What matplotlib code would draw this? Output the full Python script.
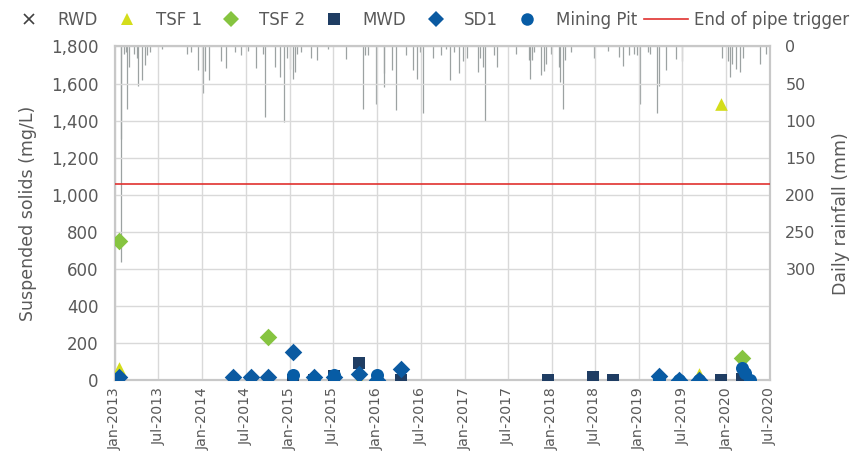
import matplotlib
matplotlib.use("Agg")
import matplotlib.pyplot as plt
import matplotlib.dates as mdates
from matplotlib.lines import Line2D
from matplotlib.ticker import FuncFormatter, FixedLocator
import pandas as pd

plt.rcParams['font.family'] = ['DejaVu Sans']

# ---- water quality samples: suspended solids (mg/L) ----
rwd_dates = ['2014-05-10', '2014-07-23']
rwd_vals = [10, 10]

tsf1_dates = ['2013-01-19', '2014-10-03', '2015-04-12', '2015-07-05', '2015-10-17',
              '2016-01-01', '2019-03-23', '2019-09-08', '2019-12-11']
tsf1_vals = [68, 2, 0, 0, 2, 3, 0, 35, 1490]

tsf2_dates = ['2013-01-19', '2014-10-03', '2020-03-04']
tsf2_vals = [750, 233, 122]

mwd_dates = ['2015-01-16', '2015-04-12', '2015-07-05', '2015-10-17', '2016-04-10',
             '2017-12-17', '2018-06-23', '2018-09-14', '2019-12-11', '2020-03-04']
mwd_vals = [2, 5, 25, 93, 3, 3, 17, 3, 5, 6]

sd1_dates = ['2013-01-19', '2014-05-10', '2014-07-23', '2014-10-03', '2015-01-16',
             '2015-04-12', '2015-07-05', '2015-10-17', '2016-01-01', '2016-04-10',
             '2019-03-23', '2019-06-17', '2019-09-08']
sd1_vals = [20, 17, 17, 17, 152, 20, 20, 35, 5, 60, 22, 5, 5]

pit_dates = ['2015-01-16', '2015-04-12', '2015-07-05', '2016-01-01', '2019-03-23',
             '2019-06-17', '2019-09-08', '2020-03-04', '2020-03-18', '2020-04-10']
pit_vals = [30, 12, 28, 30, 10, 5, 5, 66, 40, 3]

trigger_level = 1060

# ---- daily rainfall (mm) ----
rain_dates = ['2013-01-25', '2013-01-27', '2013-02-08', '2013-02-16', '2013-02-21',
              '2013-03-02', '2013-03-20', '2013-04-03', '2013-04-08', '2013-04-25',
              '2013-05-08', '2013-05-15', '2013-05-29', '2013-07-16', '2013-10-30',
              '2013-11-13', '2013-12-14', '2014-01-04', '2014-01-12', '2014-01-30',
              '2014-03-20', '2014-04-11', '2014-05-19', '2014-06-13', '2014-07-11',
              '2014-08-14', '2014-09-10', '2014-09-20', '2014-11-02', '2014-11-20',
              '2014-12-08', '2014-12-22', '2015-01-02', '2015-01-14', '2015-01-22',
              '2015-02-01', '2015-02-18', '2015-03-31', '2015-04-26', '2015-06-10',
              '2015-08-25', '2015-11-04', '2015-11-12', '2015-11-26', '2015-12-27',
              '2016-01-29', '2016-02-01', '2016-03-04', '2016-03-21', '2016-05-02',
              '2016-05-30', '2016-06-17', '2016-06-30', '2016-07-13', '2016-08-21',
              '2016-09-25', '2016-10-15', '2016-11-02', '2016-11-17', '2016-12-09',
              '2016-12-25', '2017-01-12', '2017-02-28', '2017-03-06', '2017-03-20',
              '2017-03-28', '2017-05-06', '2017-05-17', '2017-08-06', '2017-09-28',
              '2017-10-01', '2017-10-10', '2017-10-17', '2017-11-17', '2017-11-28',
              '2017-12-08', '2017-12-30', '2018-01-30', '2018-02-03', '2018-02-17',
              '2018-02-23', '2018-03-20', '2018-06-25', '2018-08-24', '2018-10-09',
              '2018-10-26', '2018-11-19', '2018-12-11', '2018-12-21', '2019-01-04',
              '2019-02-07', '2019-02-14', '2019-03-15', '2019-03-26', '2019-04-23',
              '2019-06-06', '2019-07-01', '2019-12-15', '2020-01-08', '2020-01-15',
              '2020-01-22', '2020-02-09', '2020-02-26', '2020-03-08', '2020-05-22',
              '2020-06-16']
rain_mm = [290, 125, 10, 8, 84,
           28, 10, 15, 53, 45,
           25, 12, 8, 4, 10,
           8, 32, 63, 33, 45,
           19, 29, 8, 12, 6,
           29, 10, 95, 28, 41,
           102, 15, 30, 44, 35,
           10, 8, 15, 18, 4,
           17, 84, 12, 12, 78,
           55, 36, 32, 86, 12,
           32, 44, 8, 89, 15,
           12, 4, 45, 8, 36,
           20, 15, 35, 15, 28,
           100, 12, 27, 10, 18,
           44, 18, 8, 39, 33,
           23, 10, 28, 48, 84,
           18, 8, 15, 6, 14,
           26, 12, 10, 12, 77,
           8, 10, 90, 53, 32,
           17, 19, 16, 20, 41,
           24, 30, 35, 16, 24,
           10]

text_col = '#595959'
c_rwd, c_tsf1, c_tsf2 = '#404040', '#d4dd1b', '#86c440'
c_mwd, c_sd1, c_pit = '#1f3d63', '#0b5aa1', '#075ca5'
c_trig = '#e0312f'

fig = plt.figure(figsize=(8.52, 4.73), dpi=100)
ax = fig.add_axes([0.135, 0.1956, 0.7688, 0.7061])
ax2 = ax.twinx()

# rainfall hangs from the top on the secondary axis
ax2.vlines(pd.to_datetime(rain_dates), 0, rain_mm, color='#9ca2a2', linewidth=0.9)
ax2.set_ylim(450, 0)
ax2.yaxis.set_major_locator(FixedLocator([0, 50, 100, 150, 200, 250, 300]))
ax2.set_ylabel('Daily rainfall (mm)', color=text_col, fontsize=12.5, labelpad=12)
ax2.tick_params(axis='y', colors=text_col, labelsize=11.5, length=0, pad=11)

ax.set_zorder(ax2.get_zorder() + 1)
ax.patch.set_visible(False)

ax.axhline(trigger_level, color=c_trig, linewidth=1.2, zorder=3)

ax.scatter(pd.to_datetime(rwd_dates), rwd_vals, marker='x', s=40, color=c_rwd,
           linewidths=1.2, zorder=4)
ax.scatter(pd.to_datetime(tsf1_dates), tsf1_vals, marker='^', s=83, color=c_tsf1,
           linewidths=0, zorder=4)
ax.scatter(pd.to_datetime(tsf2_dates), tsf2_vals, marker='D', s=80, color=c_tsf2,
           linewidths=0, zorder=4)
ax.scatter(pd.to_datetime(mwd_dates), mwd_vals, marker='s', s=63, color=c_mwd,
           linewidths=0, zorder=4)
ax.scatter(pd.to_datetime(sd1_dates), sd1_vals, marker='D', s=80, color=c_sd1,
           linewidths=0, zorder=4)
ax.scatter(pd.to_datetime(pit_dates), pit_vals, marker='o', s=88, color=c_pit,
           linewidths=0, zorder=4)

ax.set_ylim(0, 1800)
ax.set_yticks(range(0, 1801, 200))
ax.yaxis.set_major_formatter(FuncFormatter(lambda v, p: f'{int(v):,}'))
ax.set_xlim(pd.Timestamp('2013-01-01'), pd.Timestamp('2020-07-01'))
ax.xaxis.set_major_locator(mdates.MonthLocator(bymonth=[1, 7]))
ax.xaxis.set_major_formatter(mdates.DateFormatter('%b-%Y'))
ax.tick_params(axis='x', rotation=90, colors=text_col, labelsize=10.2, length=0, pad=5)
ax.tick_params(axis='y', colors=text_col, labelsize=12, length=0, pad=12)
ax.set_ylabel('Suspended solids (mg/L)', color=text_col, fontsize=12.5, labelpad=10)
ax.grid(True, color='#d9d9d9', linewidth=1.0)
ax.set_axisbelow(True)
ax2.tick_params(axis='x', length=0)

for a in (ax, ax2):
    for s in a.spines.values():
        s.set_color('#c8c8c8')
        s.set_linewidth(1.5)

handles = [
    Line2D([], [], linestyle='none', marker='x', markersize=7, color=c_rwd, markeredgewidth=1.2),
    Line2D([], [], linestyle='none', marker='^', markersize=9, color=c_tsf1, markeredgewidth=0),
    Line2D([], [], linestyle='none', marker='D', markersize=8, color=c_tsf2, markeredgewidth=0),
    Line2D([], [], linestyle='none', marker='s', markersize=8, color=c_mwd, markeredgewidth=0),
    Line2D([], [], linestyle='none', marker='D', markersize=8, color=c_sd1, markeredgewidth=0),
    Line2D([], [], linestyle='none', marker='o', markersize=9, color=c_pit, markeredgewidth=0),
    Line2D([], [], color=c_trig, linewidth=1.2),
]
labels = ['RWD', 'TSF 1', 'TSF 2', 'MWD', 'SD1', 'Mining Pit', 'End of pipe trigger']
leg = fig.legend(handles, labels, loc='upper center', bbox_to_anchor=(0.503, 1.008),
                 ncol=7, frameon=False, fontsize=12, handlelength=2.6,
                 handletextpad=0.4, columnspacing=0.45)
for t in leg.get_texts():
    t.set_color(text_col)

fig.savefig('out.png', dpi=100)
